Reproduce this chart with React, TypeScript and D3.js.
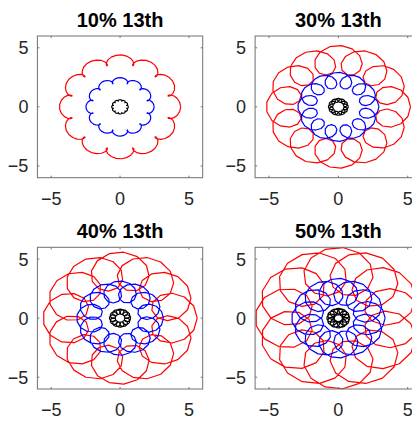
import React from "react";
import * as d3 from "d3";

// ---- data ----
const panelTitles = ["10% 13th", "30% 13th", "40% 13th", "50% 13th"];
const harmonicPercent = [10, 30, 40, 50];
const harmonicOrder = 13;
const curveRadii = [4.0, 2.25, 0.55];
const curveColors = ["#ff0000", "#0000ff", "#000000"];
const tickValues = [-5, 0, 5];
const axisDomain = [-6, 6];
const samplesPerCycle = 145;

// ---- layout ----
const W = 412;
const H = 421;
const colX = [
  [37.4, 202.7],
  [255.1, 421.6],
];
const rowY = [
  [36, 177.7],
  [247.3, 389],
];

const fmt = (v: number) => (v < 0 ? "\u2212" + Math.abs(v) : String(v));

function Panel({ idx }: { idx: number }) {
  const col = idx % 2;
  const row = Math.floor(idx / 2);
  const [x0, x1] = colX[col];
  const [y0, y1] = rowY[row];
  const xs = d3.scaleLinear().domain(axisDomain).range([x0, x1]);
  const ys = d3.scaleLinear().domain(axisDomain).range([y1, y0]);
  const a = harmonicPercent[idx] / 100;
  const ts = d3.range(samplesPerCycle + 1).map((i) => (2 * Math.PI * i) / samplesPerCycle);
  const line = d3
    .line<[number, number]>()
    .x((d) => xs(d[0]))
    .y((d) => ys(d[1]));
  const tickLen = 2;
  const font = "'Liberation Sans', Arial, Helvetica, sans-serif";
  return (
    <g>
      {curveRadii.map((R, ci) => {
        const pts: [number, number][] = ts.map((t) => [
          R * (Math.cos(t) + a * Math.cos(harmonicOrder * t)),
          R * (Math.sin(t) + a * Math.sin(harmonicOrder * t)),
        ]);
        return (
          <path
            key={ci}
            d={line(pts) || ""}
            fill="none"
            stroke={curveColors[ci]}
            strokeWidth={1.2}
            strokeLinejoin="round"
          />
        );
      })}
      <rect
        x={x0}
        y={y0}
        width={x1 - x0}
        height={y1 - y0}
        fill="none"
        stroke="#707070"
        strokeWidth={1}
      />
      {tickValues.map((v) => (
        <g key={"t" + v}>
          <line x1={xs(v)} x2={xs(v)} y1={y1} y2={y1 - tickLen} stroke="#707070" />
          <line x1={xs(v)} x2={xs(v)} y1={y0} y2={y0 + tickLen} stroke="#707070" />
          <line x1={x0} x2={x0 + tickLen} y1={ys(v)} y2={ys(v)} stroke="#707070" />
          <line x1={x1} x2={x1 - tickLen} y1={ys(v)} y2={ys(v)} stroke="#707070" />
          <text
            x={xs(v)}
            y={y1 + 27.3}
            textAnchor="middle"
            fontFamily={font}
            fontSize={18}
            fill="#262626"
          >
            {fmt(v)}
          </text>
          <text
            x={x0 - 9}
            y={ys(v)}
            dy="0.36em"
            textAnchor="end"
            fontFamily={font}
            fontSize={18}
            fill="#262626"
          >
            {fmt(v)}
          </text>
        </g>
      ))}
      <text
        x={(x0 + x1) / 2}
        y={y0 - 9.5}
        textAnchor="middle"
        fontFamily={font}
        fontSize={20}
        fontWeight="bold"
        fill="#000"
      >
        {panelTitles[idx]}
      </text>
    </g>
  );
}

export default function App() {
  return (
    <svg
      width={W}
      height={H}
      style={{ position: "absolute", left: 0, top: 0, background: "#fff" }}
    >
      <rect x={0} y={0} width={W} height={H} fill="#fff" />
      {panelTitles.map((_, i) => (
        <Panel key={i} idx={i} />
      ))}
    </svg>
  );
}
